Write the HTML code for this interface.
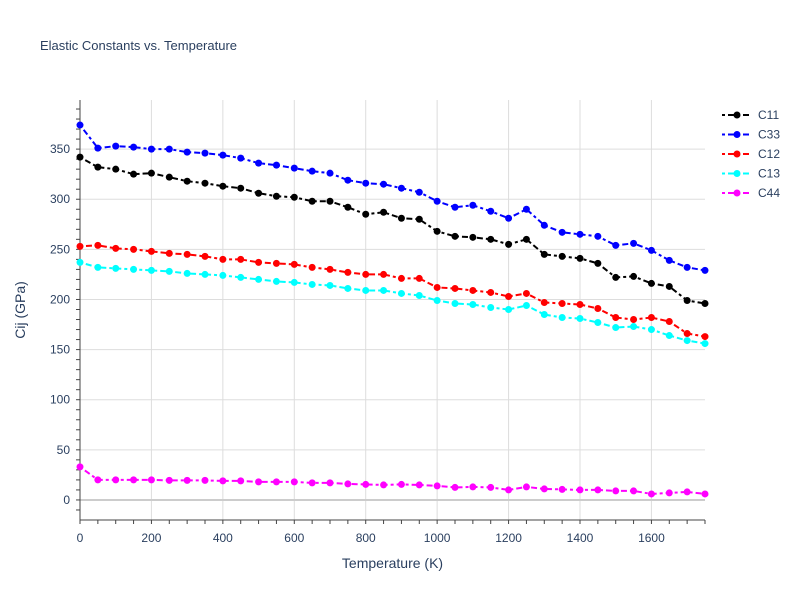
<!DOCTYPE html>
<html><head><meta charset="utf-8"><style>
body{margin:0;background:#fff;font-family:"Liberation Sans",sans-serif}
</style></head><body>
<svg id="chart" width="800" height="600" font-family="Liberation Sans, sans-serif"></svg>
<script>
const temps=[0,50,100,150,200,250,300,350,400,450,500,550,600,650,700,750,800,850,900,950,1000,1050,1100,1150,1200,1250,1300,1350,1400,1450,1500,1550,1600,1650,1700,1750];
const c11=[342,332,330,325,326,322,318,316,313,311,306,303,302,298,298,292,285,287,281,280,268,263,262,260,255,260,245,243,241,236,222,223,216,213,199,196];
const c33=[374,351,353,352,350,350,347,346,344,341,336,334,331,328,326,319,316,315,311,307,298,292,294,288,281,290,274,267,265,263,254,256,249,239,232,229];
const c12=[253,254,251,250,248,246,245,243,240,240,237,236,235,232,230,227,225,225,221,221,212,211,209,207,203,206,197,196,195,191,182,180,182,178,166,163];
const c13=[237,232,231,230,229,228,226,225,224,222,220,218,217,215,214,211,209,209,206,204,199,196,195,192,190,194,185,182,181,177,172,173,170,164,159,156];
const c44=[33,20,20,20,20,19.5,19.5,19.5,19,19,18,18,18,17,17,16,15.5,15,15.5,15,14,12.5,13,12.5,10,13,11,10.5,10,10,9,9,6,7,8,6];
const seriesNames=["C11","C33","C12","C13","C44"];
const seriesData=[c11,c33,c12,c13,c44];
const seriesColors=["black","blue","red","cyan","magenta"];
const xTicks=[0,200,400,600,800,1000,1200,1400,1600];
const yTicks=[0,50,100,150,200,250,300,350];

const svg=document.getElementById('chart');
const NS='http://www.w3.org/2000/svg';
const L=80,R=705,T=100,B=520;
const xMin=0,xMax=1750,yMin=-20,yMax=399;
const xs=v=>L+(v-xMin)/(xMax-xMin)*(R-L);
const ys=v=>B-(v-yMin)/(yMax-yMin)*(B-T);
function mk(tag,attrs,parent){const e=document.createElementNS(NS,tag);for(const k in attrs)e.setAttribute(k,attrs[k]);(parent||svg).appendChild(e);return e;}

let t=mk('text',{x:40,y:50,'font-size':13,fill:'#2a3f5f'});t.textContent='Elastic Constants vs. Temperature';



const grid=mk('g',{});


xTicks.forEach(v=>{
  if(v>0)mk('line',{x1:xs(v),x2:xs(v),y1:T,y2:B,stroke:'#ddd','stroke-width':1},grid);
  const l=mk('text',{x:xs(v),y:B+22,'text-anchor':'middle','font-size':12,fill:'#2a3f5f'});l.textContent=v;
  
  
});
yTicks.forEach(v=>{
  mk('line',{x1:L,x2:R,y1:ys(v),y2:ys(v),stroke:v===0?'#ccc':'#ddd','stroke-width':v===0?2:1},grid);
  const l=mk('text',{x:L-10,y:ys(v)+4,'text-anchor':'end','font-size':12,fill:'#2a3f5f'});l.textContent=v;
  
  
});
for(let v=-10;v<=390;v+=10){mk('line',{x1:L-4,x2:L,y1:ys(v),y2:ys(v),stroke:'#444','stroke-width':1});}
for(let v=0;v<=1750;v+=50){mk('line',{x1:xs(v),x2:xs(v),y1:B,y2:B+4,stroke:'#444','stroke-width':1});}
const ax=mk('line',{x1:L,x2:L,y1:T,y2:B,stroke:'#444','stroke-width':1});


const axx=mk('line',{x1:L,x2:R,y1:B,y2:B,stroke:'#444','stroke-width':1});


let xt=mk('text',{x:(L+R)/2,y:568,'text-anchor':'middle','font-size':14,fill:'#2a3f5f'});xt.textContent='Temperature (K)';


let yt=mk('text',{x:25,y:(T+B)/2,'text-anchor':'middle','font-size':14,fill:'#2a3f5f',transform:`rotate(-90 25 ${(T+B)/2})`});yt.textContent='Cij (GPa)';



seriesData.forEach((d,i)=>{
  const g=mk('g',{});
  
  
  const pts=d.map((v,j)=>xs(temps[j])+','+ys(v)).join(' ');
  mk('polyline',{points:pts,fill:'none',stroke:seriesColors[i],'stroke-width':2,'stroke-dasharray':'3,3,6,3'},g);
  d.forEach((v,j)=>{const c=mk('circle',{cx:xs(temps[j]),cy:ys(v),r:3.5,fill:seriesColors[i]},g);
    
    });
  const ly=115+i*19.5;
  const lg=mk('g',{});
  
  
  mk('line',{x1:722,x2:752,y1:ly,y2:ly,stroke:seriesColors[i],'stroke-width':2,'stroke-dasharray':'3,3,6,3'},lg);
  mk('circle',{cx:737,cy:ly,r:3.5,fill:seriesColors[i]},lg);
  const lt=mk('text',{x:758,y:ly+4,'font-size':12,fill:'#2a3f5f'},lg);lt.textContent=seriesNames[i];
});
</script>
</body></html>
